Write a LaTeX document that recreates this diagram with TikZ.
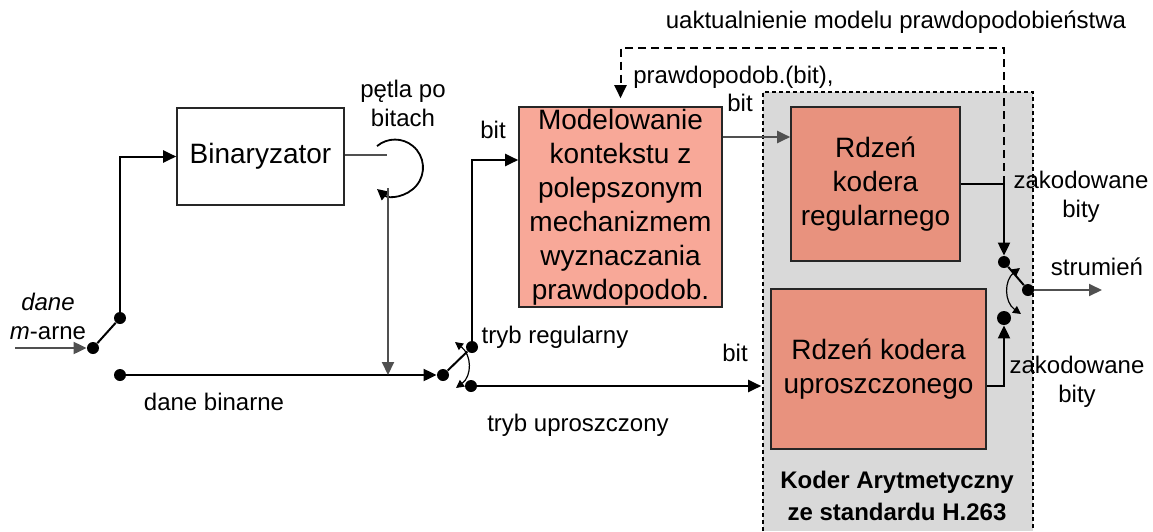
\documentclass[tikz,border=0pt]{standalone}
\usepackage{fontspec}
\setmainfont{Liberation Sans}
\usepackage{xcolor}
\usepackage{tikz}
\usetikzlibrary{positioning}
\usetikzlibrary{arrows.meta}

\definecolor{modfill}{HTML}{F8A898}
\definecolor{corefill}{HTML}{E8927E}
\definecolor{regionfill}{HTML}{D9D9D9}
\definecolor{linegray}{HTML}{505050}

\begin{document}
\begin{tikzpicture}
  [
    x=0.5pt, y=-0.5pt,
    block/.style={
      draw=black!85,
      line width=0.8pt,
      align=center,
      inner sep=0pt,
      font=\fontsize{14}{17}\selectfont
    },
    lbl/.style={align=center, inner sep=0pt, font=\fontsize{12}{14.5}\selectfont},
    dot/.style={circle, fill=black, inner sep=0pt, minimum size=6pt},
    wire/.style={draw=black, line width=1pt},
    gwire/.style={draw=linegray, line width=1pt},
    tip/.style={-{Triangle[length=6.5pt,width=6pt]}},
    fb/.style={draw=black, line width=1pt, dash pattern=on 4pt off 2.5pt},
    swarc/.style={line width=0.6pt,
      {Triangle[length=4pt,width=4pt]}-{Triangle[length=4pt,width=4pt]}}
  ]
  \useasboundingbox (0,0) rectangle (1153,531);

  % obszar kodera arytmetycznego
  \fill[regionfill] (763,92) rectangle (1033,531);
  \draw[line width=0.6pt, dash pattern=on 2pt off 1.5pt]
        (763,531) -- (763,92) -- (1033,92) -- (1033,531);

  \node (bin) at (260.5,156.5) [block, minimum width=83.5pt, minimum height=48.5pt] {Binaryzator};
  \node (model) at (620.5,207) [block, fill=modfill, minimum width=101.5pt, minimum height=100pt]
        {Modelowanie\\kontekstu z\\polepszonym\\mechanizmem\\wyznaczania\\prawdopodob.};
  \node (reg) at (875.5,184) [block, fill=corefill, minimum width=84.5pt, minimum height=77pt]
        {Rdzeń\\kodera\\regularnego};
  \node (upr) at (878.5,369) [block, fill=corefill, minimum width=107.5pt, minimum height=80pt]
        {Rdzeń kodera\\uproszczonego};

  % przelaczniki
  \node (m0) at (93,348) [dot] {};
  \node (m1) at (120,318) [dot] {};
  \node (m2) at (120,375) [dot] {};
  \node (s0) at (443,375) [dot] {};
  \node (s1) at (472,347) [dot] {};
  \node (s2) at (471,386) [dot] {};
  \node (o1) at (1004,262) [dot] {};
  \node (o2) at (1004,318) [dot, minimum size=7pt] {};
  \node (o0) at (1028,290) [dot] {};

  \coordinate (in) at (15,348);
  \coordinate (out) at (1102,290);
  \coordinate (lp) at (388,188);
  \coordinate (j) at (reg.east -| o1);

  \draw[gwire, tip] (in) -- (m0.west);
  \draw[wire] (m0) -- (m1);
  \draw[wire, tip] (m1) |- (bin.west);
  \draw[wire, tip] (m2) -- (s0.west);
  \draw[gwire] (bin.east |- 0,155) -- (387,155);
  \draw[line width=0.9pt, {Triangle[length=5.5pt,width=5.5pt]}-] (377,189) arc[start angle=130, end angle=-130, radius=28];
  \draw[gwire, tip] (lp) -- (lp |- m2);

  \draw[wire] (s0) -- (s1);
  \draw[wire, tip] (s1) |- (model.west |- 0,160);
  \draw[wire, tip, shorten >=4.5pt] (s2) -- (upr.west |- s2);
  \draw[swarc] (455,342) .. controls (472,355) and (472,376) .. (456,388);

  \draw[gwire, tip] (model.east |- 0,137) -- (reg.west |- 0,137);
  \draw[wire, tip] (reg.east) -| (o1.north);
  \draw[wire, tip] (upr.east |- 0,386) -| (o2.south);
  \draw[wire] (o1) -- (o0);
  \draw[gwire, tip] (o0) -- (out);
  \draw[swarc] (1020,268) .. controls (1004,280) and (1004,302) .. (1021,314);

  % uaktualnienie modelu
  \draw[fb, tip, shorten >=4pt] (j) -- ++(0,-136) -| (model.north);

  \node (mary) at (48,316) [lbl] {\textit{dane}\\\textit{m}-arne};
  \node (dbin) at (214,402) [lbl] {dane binarne};
  \node (petla) at (403,103) [lbl] {pętla po\\bitach};
  \node (bit1) at (493,130) [lbl] {bit};
  \node (treg) at (555,337) [lbl] {tryb regularny};
  \node (bit2) at (735,353) [lbl] {bit};
  \node (tupr) at (578,425) [lbl] {tryb uproszczony};
  \node (upd) at (896,22) [lbl] {uaktualnienie modelu prawdopodobieństwa};
  \node (prob) at (633,77) [lbl, anchor=west] {prawdopodob.(bit),};
  \node (bit3) at (740,103) [lbl] {bit};
  \node (zk1) at (1081,197) [lbl] {zakodowane\\bity};
  \node (strm) at (1097,267) [lbl] {strumień};
  \node (zk2) at (1077,382) [lbl] {zakodowane\\bity};
  \node (kar) at (897,496) [lbl, font=\fontsize{12}{16}\selectfont\bfseries]
        {Koder Arytmetyczny\\ze standardu H.263};

\end{tikzpicture}
\end{document}
